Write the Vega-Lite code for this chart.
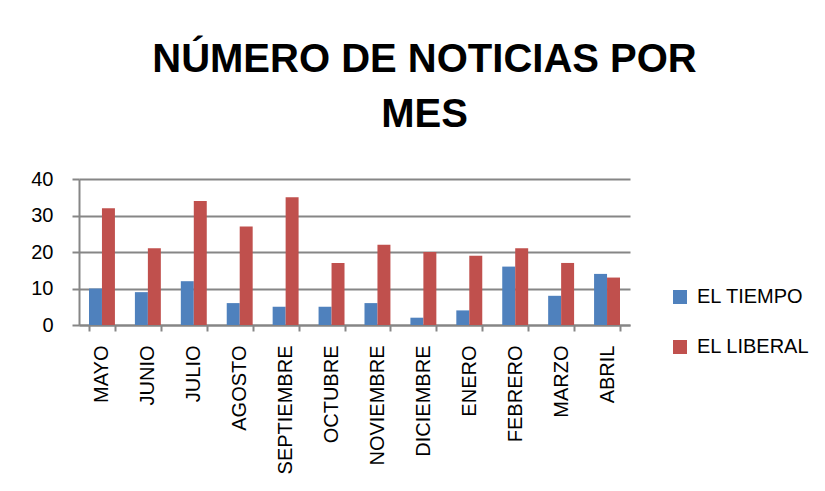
{
  "$schema": "https://vega.github.io/schema/vega-lite/v6.json",
  "width": 551,
  "height": 146,
  "autosize": {"type": "none"},
  "padding": {"left": 79, "top": 179, "right": 195, "bottom": 166},
  "background": "white",
  "title": {
    "text": ["NÚMERO DE NOTICIAS POR", "MES"],
    "font": "Liberation Sans",
    "fontSize": 40,
    "fontWeight": "bold",
    "color": "#000000",
    "lineHeight": 55,
    "anchor": "middle",
    "frame": "group",
    "dx": 70,
    "offset": 34
  },
  "data": {
    "values": [
      {"mes": "MAYO", "serie": "EL TIEMPO", "valor": 10},
      {"mes": "MAYO", "serie": "EL LIBERAL", "valor": 32},
      {"mes": "JUNIO", "serie": "EL TIEMPO", "valor": 9},
      {"mes": "JUNIO", "serie": "EL LIBERAL", "valor": 21},
      {"mes": "JULIO", "serie": "EL TIEMPO", "valor": 12},
      {"mes": "JULIO", "serie": "EL LIBERAL", "valor": 34},
      {"mes": "AGOSTO", "serie": "EL TIEMPO", "valor": 6},
      {"mes": "AGOSTO", "serie": "EL LIBERAL", "valor": 27},
      {"mes": "SEPTIEMBRE", "serie": "EL TIEMPO", "valor": 5},
      {"mes": "SEPTIEMBRE", "serie": "EL LIBERAL", "valor": 35},
      {"mes": "OCTUBRE", "serie": "EL TIEMPO", "valor": 5},
      {"mes": "OCTUBRE", "serie": "EL LIBERAL", "valor": 17},
      {"mes": "NOVIEMBRE", "serie": "EL TIEMPO", "valor": 6},
      {"mes": "NOVIEMBRE", "serie": "EL LIBERAL", "valor": 22},
      {"mes": "DICIEMBRE", "serie": "EL TIEMPO", "valor": 2},
      {"mes": "DICIEMBRE", "serie": "EL LIBERAL", "valor": 20},
      {"mes": "ENERO", "serie": "EL TIEMPO", "valor": 4},
      {"mes": "ENERO", "serie": "EL LIBERAL", "valor": 19},
      {"mes": "FEBRERO", "serie": "EL TIEMPO", "valor": 16},
      {"mes": "FEBRERO", "serie": "EL LIBERAL", "valor": 21},
      {"mes": "MARZO", "serie": "EL TIEMPO", "valor": 8},
      {"mes": "MARZO", "serie": "EL LIBERAL", "valor": 17},
      {"mes": "ABRIL", "serie": "EL TIEMPO", "valor": 14},
      {"mes": "ABRIL", "serie": "EL LIBERAL", "valor": 13}
    ]
  },
  "mark": {"type": "bar"},
  "encoding": {
    "x": {
      "field": "mes",
      "type": "nominal",
      "sort": null,
      "title": null,
      "scale": {"paddingInner": 0.435, "paddingOuter": 0.2175},
      "axis": {
        "labelAngle": -90,
        "labelFontSize": 20,
        "labelFont": "Liberation Sans",
        "labelColor": "#000000",
        "labelPadding": 14,
        "domainColor": "#868686",
        "domainWidth": 2,
        "tickColor": "#868686",
        "tickWidth": 2,
        "tickSize": 6,
        "tickBand": "extent"
      }
    },
    "xOffset": {"field": "serie", "type": "nominal", "sort": ["EL TIEMPO", "EL LIBERAL"]},
    "y": {
      "field": "valor",
      "type": "quantitative",
      "title": null,
      "scale": {"domain": [0, 40]},
      "axis": {
        "values": [0, 10, 20, 30, 40],
        "labelFontSize": 20,
        "labelFont": "Liberation Sans",
        "labelColor": "#000000",
        "labelPadding": 19,
        "domainColor": "#868686",
        "domainWidth": 2,
        "tickColor": "#868686",
        "tickWidth": 2,
        "tickSize": 7,
        "gridColor": "#868686",
        "gridWidth": 2
      }
    },
    "color": {
      "field": "serie",
      "type": "nominal",
      "sort": ["EL TIEMPO", "EL LIBERAL"],
      "title": null,
      "scale": {"domain": ["EL TIEMPO", "EL LIBERAL"], "range": ["#4F81BD", "#C0504D"]},
      "legend": {
        "orient": "none",
        "legendX": 591,
        "legendY": 108,
        "symbolType": "square",
        "symbolSize": 196,
        "symbolStrokeWidth": 0,
        "labelFontSize": 20,
        "labelFont": "Liberation Sans",
        "labelColor": "#000000",
        "rowPadding": 30,
        "labelOffset": 7
      }
    }
  },
  "config": {"view": {"stroke": null}}
}
